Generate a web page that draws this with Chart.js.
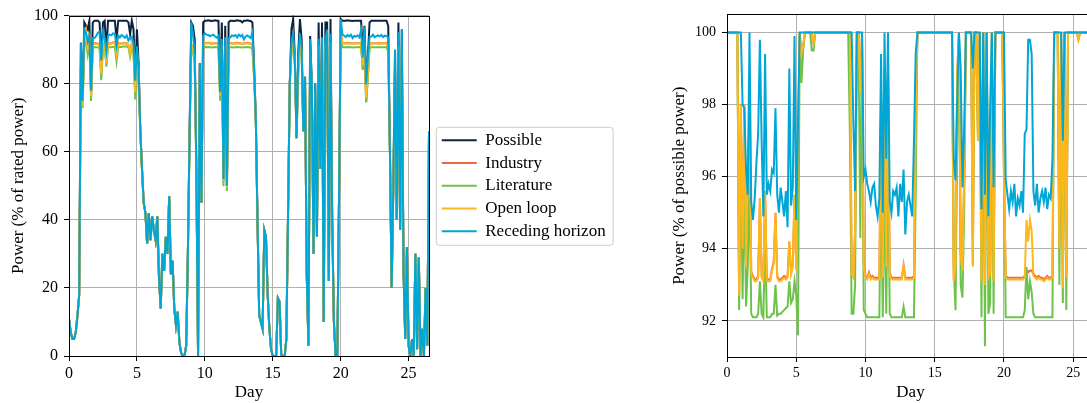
<!DOCTYPE html>
<html>
<head>
<meta charset="utf-8">
<title>Wind farm power</title>
<script src="https://cdn.jsdelivr.net/npm/chart.js@4.4.1/dist/chart.umd.min.js"></script>
<style>
  body { margin: 0; background: #fff; overflow: hidden; }
  #powerAbs { position: absolute; left: 0; top: 0; }
  #powerRel { position: absolute; left: 660px; top: 0; }
</style>
</head>
<body>
<canvas id="powerAbs" width="625" height="403"></canvas>
<canvas id="powerRel" width="440" height="403"></canvas>
<script>
// three-hourly samples, one row per day
const step = 0.125;

// power in % of rated power
const possible = [
  11, 7, 5, 5, 7, 12, 18, 92,
  75, 98, 97, 96, 98.5, 78, 98, 98.5,
  98.5, 98.5, 98, 87, 98, 98.5, 90, 98.5,
  98.5, 98.5, 98.5, 98.5, 93, 98.5, 98.5, 98.5,
  98.5, 98.5, 98.5, 98, 94.5, 98.5, 96, 81,
  96, 86, 66, 55, 45, 42, 33, 42,
  34, 41, 37, 34, 41, 23, 14, 30,
  25, 35, 30, 47, 24, 28, 14, 9,
  13, 4, 1, 0, 0, 3, 30, 65,
  98, 97, 93, 55, 0, 86, 45, 98,
  98.5, 98.5, 98.6, 98.5, 98.4, 98.5, 98.6, 98.5,
  98.5, 78, 98, 52, 97, 50, 98, 98.5,
  98.5, 98.4, 98.5, 98.6, 98.5, 98.5, 98, 98.5,
  98.5, 98.6, 98.5, 98.4, 98, 85, 70, 40,
  12, 10, 8, 37, 35, 18, 8, 2,
  0, 0, 0, 17, 16, 0, 0, 0,
  5, 42, 80, 96, 99, 88, 64, 89,
  99, 93, 66, 82, 24, 3, 94, 80,
  30, 80, 35, 98, 55, 98, 10, 98,
  98, 22, 99, 40, 10, 0, 0, 46,
  99, 98.5, 98.5, 98.5, 98.6, 98.5, 98.5, 98.4,
  98.5, 98.5, 98.5, 98.5, 98.5, 90, 97, 80,
  88, 98, 98.5, 98.5, 98.5, 98.5, 98.5, 98.5,
  98.5, 98.5, 98.5, 98.5, 97, 60, 20, 50,
  90, 40, 98, 37, 96, 25, 5, 32,
  3, 0, 5, 0, 30, 2, 29, 0,
  8, 0, 20, 3, 66
];

const industryAbs = [
  11, 7, 5, 5, 7, 12, 18, 85.3,
  73.5, 92.1, 95.1, 89.8, 94.6, 76.3, 91.5, 91.9,
  91.8, 91.8, 91.4, 83.0, 91.4, 91.8, 86.0, 91.8,
  91.8, 91.8, 92.1, 92.3, 88.4, 91.9, 91.8, 91.8,
  91.9, 91.9, 91.9, 91.4, 89.0, 92.0, 89.9, 77.4,
  89.8, 83.4, 66, 54.7, 44.8, 42, 33, 42,
  34, 41, 36.9, 34, 41, 23, 14, 30,
  25, 35, 30, 47, 24, 28, 14, 9,
  13, 4, 1, 0, 0, 3, 30, 65,
  91.5, 90.5, 87.9, 55, 0, 84.5, 45, 91.7,
  91.9, 91.9, 92.1, 91.9, 91.8, 91.9, 91.9, 91.9,
  91.9, 76.5, 91.4, 51.5, 90.8, 49.5, 91.5, 91.9,
  91.9, 91.8, 91.9, 92.0, 91.9, 91.9, 91.7, 91.9,
  91.9, 92.0, 91.9, 91.8, 91.4, 83.0, 70, 40,
  12, 10, 8, 37, 35, 18, 8, 2,
  0, 0, 0, 17, 16, 0, 0, 0,
  5, 42, 80, 89.5, 92.7, 87.0, 64, 83.6,
  92.6, 89.3, 66, 82, 24, 3, 88.0, 80,
  30, 77.6, 35, 91.3, 55, 91.2, 10, 91.4,
  91.5, 22, 92.3, 40, 10, 0, 0, 46,
  95.0, 91.9, 91.9, 91.9, 92.0, 91.9, 91.9, 91.8,
  91.9, 91.9, 91.9, 91.9, 91.9, 84.1, 90.5, 74.7,
  82.2, 91.5, 91.9, 91.9, 91.9, 91.9, 91.9, 91.8,
  91.9, 91.9, 91.9, 91.9, 90.5, 60, 20, 50,
  84.6, 40, 91.1, 37, 89.6, 25, 5, 32,
  3, 0, 5, 0, 30, 2, 29, 0,
  8, 0, 20, 3, 66
];

const literatureAbs = [
  11, 7, 5, 5, 7, 12, 18, 84.9,
  72.8, 90.7, 93.1, 88.7, 92.1, 74.9, 90.4, 90.7,
  90.7, 90.7, 90.4, 81.0, 90.4, 90.7, 85.0, 90.7,
  90.7, 90.7, 90.8, 90.8, 86.5, 90.8, 90.8, 90.8,
  90.9, 90.9, 91.0, 90.6, 88.0, 91.1, 88.9, 75.4,
  89.0, 78.8, 66, 54.2, 44.8, 42, 33, 42,
  34, 40.8, 36.8, 34, 41, 23, 14, 30,
  25, 35, 30, 47, 24, 28, 14, 9,
  13, 4, 1, 0, 0, 3, 30, 63.1,
  90.4, 89.4, 86.5, 55, 0, 81.1, 45, 90.5,
  90.8, 90.7, 90.8, 90.7, 90.6, 90.7, 90.8, 90.7,
  90.7, 75.0, 90.3, 49.9, 89.4, 48.5, 90.4, 90.7,
  90.7, 90.6, 90.7, 90.8, 90.7, 90.7, 90.6, 90.7,
  90.7, 90.8, 90.7, 90.6, 90.3, 81.2, 70, 40,
  12, 10, 8, 37, 35, 18, 8, 2,
  0, 0, 0, 17, 16, 0, 0, 0,
  5, 42, 80, 89.8, 91.4, 85.4, 64, 82.8,
  91.7, 88.4, 66, 82, 24, 3, 88.6, 80,
  30, 77.6, 35, 90.3, 55, 89.5, 10, 90.4,
  90.7, 22, 91.3, 40, 10, 0, 0, 46,
  95.5, 90.7, 90.7, 90.7, 90.8, 90.7, 90.7, 90.6,
  90.7, 90.7, 90.7, 90.7, 90.9, 84.2, 89.8, 74.5,
  81.7, 90.4, 90.7, 90.7, 90.7, 90.7, 90.7, 90.7,
  90.7, 90.7, 90.7, 90.7, 89.3, 60, 20, 50,
  83.7, 40, 90.7, 37, 88.6, 25, 5, 32,
  3, 0, 5, 0, 30, 2, 29, 0,
  8, 0, 20, 3, 66
];

const openLoopAbs = [
  11, 7, 5, 5, 7, 12, 18, 85.3,
  73.5, 92.1, 95.1, 89.8, 94.6, 76.3, 91.4, 91.8,
  91.7, 91.7, 91.3, 83.0, 91.3, 91.7, 86.0, 91.7,
  91.7, 91.7, 92.0, 92.2, 88.4, 91.8, 91.7, 91.7,
  91.8, 91.8, 91.8, 91.3, 89.0, 91.9, 89.8, 77.4,
  89.7, 83.4, 66, 54.7, 44.8, 42, 33, 42,
  34, 41, 36.9, 34, 41, 23, 14, 30,
  25, 35, 30, 47, 24, 28, 14, 9,
  13, 4, 1, 0, 0, 3, 30, 65,
  91.4, 90.4, 87.9, 55, 0, 84.5, 45, 91.6,
  91.8, 91.8, 92.0, 91.8, 91.7, 91.8, 91.8, 91.8,
  91.8, 76.5, 91.3, 51.5, 90.7, 49.5, 91.4, 91.8,
  91.8, 91.7, 91.8, 91.9, 91.8, 91.8, 91.6, 91.8,
  91.8, 91.9, 91.8, 91.7, 91.3, 83.0, 70, 40,
  12, 10, 8, 37, 35, 18, 8, 2,
  0, 0, 0, 17, 16, 0, 0, 0,
  5, 42, 80, 89.4, 92.6, 87.0, 64, 83.5,
  92.5, 89.3, 66, 82, 24, 3, 87.9, 80,
  30, 77.6, 35, 91.2, 55, 91.1, 10, 91.3,
  91.4, 22, 92.2, 40, 10, 0, 0, 46,
  95.0, 91.8, 91.8, 91.8, 91.9, 91.8, 91.8, 91.7,
  91.8, 91.8, 91.8, 91.8, 91.8, 85.3, 91.4, 75.8,
  83.2, 91.4, 91.8, 91.8, 91.8, 91.8, 91.8, 91.7,
  91.8, 91.8, 91.8, 91.8, 90.4, 60, 20, 50,
  84.6, 40, 91.0, 37, 89.5, 25, 5, 32,
  3, 0, 5, 0, 30, 2, 29, 0,
  8, 0, 20, 3, 66
];

const recedingAbs = [
  11, 7, 5, 5, 7, 12, 18, 92,
  75, 96.0, 95.0, 92.4, 94.1, 78, 93.4, 93.4,
  94.0, 95.0, 95.3, 86.8, 95.1, 93.5, 89.5, 94.1,
  94.4, 94.2, 94.8, 94.7, 91.0, 94.1, 93.6, 94.3,
  93.9, 93.5, 94.2, 92.7, 93.6, 93.8, 91.9, 80.9,
  91.0, 83.8, 66, 55, 45, 42, 33, 42,
  34, 41, 37, 34, 41, 23, 14, 30,
  25, 35, 30, 47, 24, 28, 14, 9,
  13, 4, 1, 0, 0, 3, 30, 65,
  98, 94.6, 88.9, 55, 0, 86, 45, 94.1,
  94.8, 94.4, 94.3, 93.9, 94.2, 94.4, 93.9, 93.5,
  94.0, 77.5, 93.1, 52, 93.6, 50, 93.4, 93.6,
  94.2, 94.0, 94.3, 93.6, 94.4, 93.9, 94.3, 93.0,
  93.9, 94.2, 93.8, 93.4, 95.1, 84.5, 70, 40,
  12, 10, 8, 37, 35, 18, 8, 2,
  0, 0, 0, 17, 16, 0, 0, 0,
  5, 42, 80, 92.6, 94.9, 86.4, 64, 88.1,
  94.7, 90.5, 66, 82, 24, 3, 93.1, 80,
  30, 80, 35, 93.2, 55, 93.6, 10, 93.0,
  95.9, 22, 94.7, 40, 10, 0, 0, 46,
  99, 94.5, 94.1, 93.7, 94.3, 93.9, 94.4, 93.4,
  94.0, 93.8, 94.2, 93.6, 95.7, 87.6, 96.8, 79.8,
  87.5, 93.7, 93.8, 94.4, 93.6, 94.0, 94.2, 93.9,
  94.3, 93.7, 94.1, 94.0, 93.6, 60, 20, 50,
  90, 40, 95.1, 37, 96, 25, 5, 32,
  3, 0, 5, 0, 30, 2, 29, 0,
  8, 0, 20, 3, 66
];

// power in % of possible power
const industryPct = [
  100, 100, 100, 100, 100, 100, 100, 92.75,
  98.0, 94.0, 98.0, 93.55, 96.0, 97.8, 93.35, 93.25,
  93.15, 93.15, 93.25, 95.4, 93.25, 93.15, 95.6, 93.15,
  93.15, 93.15, 93.45, 93.65, 95.0, 93.25, 93.15, 93.15,
  93.2, 93.25, 93.2, 93.25, 94.2, 93.35, 93.55, 95.5,
  93.45, 97.0, 100, 99.4, 99.6, 100, 100, 100,
  100, 100, 99.7, 100, 100, 100, 100, 100,
  100, 100, 100, 100, 100, 100, 100, 100,
  100, 100, 100, 100, 100, 100, 100, 100,
  93.35, 93.25, 94.5, 100, 100, 98.3, 100, 93.55,
  93.25, 93.2, 93.35, 93.2, 93.25, 93.2, 93.2, 93.2,
  93.2, 98.1, 93.25, 99.0, 93.55, 99.0, 93.35, 93.2,
  93.2, 93.2, 93.2, 93.2, 93.2, 93.2, 93.55, 93.2,
  93.2, 93.2, 93.2, 93.2, 93.25, 97.6, 100, 100,
  100, 100, 100, 100, 100, 100, 100, 100,
  100, 100, 100, 100, 100, 100, 100, 100,
  100, 100, 100, 93.15, 93.55, 98.9, 100, 93.85,
  93.45, 96.0, 100, 100, 100, 100, 93.55, 100,
  100, 97.0, 100, 93.15, 100, 93.05, 100, 93.25,
  93.35, 100, 93.15, 100, 100, 100, 100, 100,
  96.0, 93.25, 93.2, 93.2, 93.2, 93.2, 93.2, 93.2,
  93.2, 93.2, 93.2, 93.2, 93.25, 93.4, 93.35, 93.4,
  93.4, 93.3, 93.25, 93.2, 93.25, 93.2, 93.2, 93.15,
  93.2, 93.25, 93.2, 93.2, 93.25, 100, 100, 100,
  94.0, 100, 92.95, 100, 93.25, 100, 100, 100,
  100, 100, 100, 99.8, 100, 100, 100, 100,
  100, 100, 100, 100, 100
];

const literaturePct = [
  100, 100, 100, 100, 100, 100, 100, 92.3,
  97.0, 92.6, 96.0, 92.4, 93.5, 96.0, 92.2, 92.1,
  92.1, 92.1, 92.2, 93.1, 92.2, 92.1, 94.4, 92.1,
  92.1, 92.1, 92.2, 92.2, 93.0, 92.15, 92.2, 92.2,
  92.25, 92.3, 92.35, 92.4, 93.1, 92.5, 92.6, 93.1,
  92.7, 91.6, 100, 98.6, 99.5, 100, 100, 100,
  100, 99.5, 99.5, 100, 100, 100, 100, 100,
  100, 100, 100, 100, 100, 100, 100, 100,
  100, 100, 100, 100, 100, 100, 100, 97.1,
  92.2, 92.2, 93.0, 100, 100, 94.3, 100, 92.3,
  92.2, 92.1, 92.1, 92.1, 92.1, 92.1, 92.1, 92.1,
  92.1, 96.2, 92.1, 96.0, 92.2, 97.0, 92.2, 92.1,
  92.1, 92.1, 92.1, 92.1, 92.1, 92.1, 92.4, 92.1,
  92.1, 92.1, 92.1, 92.1, 92.1, 95.5, 100, 100,
  100, 100, 100, 100, 100, 100, 100, 100,
  100, 100, 100, 100, 100, 100, 100, 100,
  100, 100, 100, 93.5, 92.3, 97.0, 100, 93.0,
  92.65, 95.0, 100, 100, 100, 100, 94.3, 100,
  100, 97.0, 100, 92.1, 100, 91.3, 100, 92.2,
  92.5, 100, 92.2, 100, 100, 100, 100, 100,
  96.5, 92.1, 92.1, 92.1, 92.1, 92.1, 92.1, 92.1,
  92.1, 92.1, 92.1, 92.1, 92.3, 93.5, 92.6, 93.1,
  92.8, 92.2, 92.1, 92.1, 92.1, 92.1, 92.1, 92.1,
  92.1, 92.1, 92.1, 92.1, 92.1, 100, 100, 100,
  93.0, 100, 92.5, 100, 92.3, 100, 100, 100,
  100, 100, 100, 100, 100, 100, 100, 100,
  100, 100, 100, 100, 100
];

const openLoopPct = [
  100, 100, 100, 100, 100, 100, 100, 92.7,
  98.0, 94.0, 98.0, 93.5, 96.0, 97.8, 93.3, 93.2,
  93.1, 93.1, 93.2, 95.4, 93.2, 93.1, 95.6, 93.1,
  93.1, 93.1, 93.4, 93.6, 95.0, 93.2, 93.1, 93.1,
  93.15, 93.2, 93.15, 93.2, 94.2, 93.3, 93.5, 95.5,
  93.4, 97.0, 100, 99.4, 99.6, 100, 100, 100,
  100, 100, 99.7, 100, 100, 100, 100, 100,
  100, 100, 100, 100, 100, 100, 100, 100,
  100, 100, 100, 100, 100, 100, 100, 100,
  93.3, 93.2, 94.5, 100, 100, 98.3, 100, 93.5,
  93.2, 93.15, 93.3, 93.15, 93.2, 93.15, 93.15, 93.15,
  93.15, 98.1, 93.2, 99.0, 93.5, 99.0, 93.3, 93.15,
  93.15, 93.15, 93.15, 93.15, 93.15, 93.15, 93.5, 93.15,
  93.15, 93.15, 93.15, 93.15, 93.2, 97.6, 100, 100,
  100, 100, 100, 100, 100, 100, 100, 100,
  100, 100, 100, 100, 100, 100, 100, 100,
  100, 100, 100, 93.1, 93.5, 98.9, 100, 93.8,
  93.4, 96.0, 100, 100, 100, 100, 93.5, 100,
  100, 97.0, 100, 93.1, 100, 93.0, 100, 93.2,
  93.3, 100, 93.1, 100, 100, 100, 100, 100,
  96.0, 93.2, 93.15, 93.15, 93.15, 93.15, 93.15, 93.15,
  93.15, 93.15, 93.15, 93.15, 93.2, 94.8, 94.2, 94.8,
  94.5, 93.25, 93.2, 93.15, 93.2, 93.15, 93.15, 93.1,
  93.15, 93.2, 93.15, 93.15, 93.2, 100, 100, 100,
  94.0, 100, 92.9, 100, 93.2, 100, 100, 100,
  100, 100, 100, 99.8, 100, 100, 100, 100,
  100, 100, 100, 100, 100
];

const recedingPct = [
  100, 100, 100, 100, 100, 100, 100, 100,
  100, 98.0, 97.9, 96.2, 95.5, 100, 95.3, 94.8,
  95.4, 96.4, 97.2, 99.8, 97.0, 94.9, 99.4, 95.5,
  95.8, 95.6, 96.2, 96.1, 97.9, 95.5, 95.0, 95.7,
  95.3, 94.9, 95.6, 94.6, 99.0, 95.2, 95.7, 99.9,
  94.8, 97.4, 100, 100, 100, 100, 100, 100,
  100, 100, 100, 100, 100, 100, 100, 100,
  100, 100, 100, 100, 100, 100, 100, 100,
  100, 100, 100, 100, 100, 100, 100, 100,
  100, 97.5, 95.6, 100, 100, 100, 100, 96.0,
  96.2, 95.8, 95.6, 95.3, 95.7, 95.8, 95.2, 94.9,
  95.4, 99.4, 95.0, 100, 96.5, 100, 95.3, 95.0,
  95.6, 95.5, 95.7, 94.9, 95.8, 95.3, 96.2, 94.4,
  95.3, 95.5, 95.2, 94.9, 97.0, 99.4, 100, 100,
  100, 100, 100, 100, 100, 100, 100, 100,
  100, 100, 100, 100, 100, 100, 100, 100,
  100, 100, 100, 96.5, 95.9, 98.2, 100, 99.0,
  95.7, 97.3, 100, 100, 100, 100, 99.0, 100,
  100, 100, 100, 95.1, 100, 95.5, 100, 94.9,
  97.9, 100, 95.7, 100, 100, 100, 100, 100,
  100, 95.9, 95.5, 95.1, 95.6, 95.3, 95.8, 94.9,
  95.4, 95.2, 95.6, 95.0, 97.2, 97.3, 99.8, 99.8,
  99.4, 95.6, 95.2, 95.8, 95.0, 95.4, 95.6, 95.3,
  95.7, 95.1, 95.5, 95.4, 96.5, 100, 100, 100,
  100, 100, 97.0, 100, 100, 100, 100, 100,
  100, 100, 100, 100, 100, 100, 100, 100,
  100, 100, 100, 100, 100
];

const days = possible.map((_, i) => i * step);

const colors = {
  possible: '#0C2340',
  industry: '#EC6842',
  literature: '#6CC24A',
  openLoop: '#FFB81C',
  receding: '#00A6D6'
};

Chart.defaults.font.family = "'Liberation Serif', 'DejaVu Serif', serif";
Chart.defaults.color = '#000';

function series(label, data, color, order) {
  return {
    label: label,
    data: data,
    borderColor: color,
    backgroundColor: color,
    borderWidth: 2,
    pointRadius: 0,
    tension: 0,
    fill: false,
    order: order
  };
}

const gridOpts = { color: '#b0b0b0', lineWidth: 1, tickLength: 5, tickColor: '#000', tickWidth: 1 };

// black box round the plot area, over the lines
const frame = {
  id: 'frame',
  afterDatasetsDraw(chart) {
    const { ctx, chartArea: a } = chart;
    ctx.save();
    ctx.strokeStyle = '#000';
    ctx.lineWidth = 1;
    const l = Math.round(a.left) + 0.5, t = Math.round(a.top) + 0.5;
    ctx.strokeRect(l, t, Math.round(a.right) - Math.round(a.left), Math.round(a.bottom) - Math.round(a.top));
    ctx.restore();
  }
};

// pushes the legend a little off the axes, lets it use the rest of the canvas,
// and gives it a rounded grey frame
const legendFrame = {
  id: 'legendFrame',
  afterLayout(chart) {
    const lg = chart.legend;
    if (!lg || !lg.options.display) return;
    lg.left += 7;
    lg.right = chart.width;
    lg.width = lg.right - lg.left;
  },
  beforeDraw(chart) {
    const lg = chart.legend;
    if (!lg || !lg.options.display || !lg.legendHitBoxes.length) return;
    const hb = lg.legendHitBoxes;
    const x0 = hb[0].left - 6;
    const y0 = hb[0].top - 5;
    const x1 = Math.max(...hb.map(b => b.left + b.width)) + 7;
    const last = hb[hb.length - 1];
    const y1 = last.top + last.height + 5;
    const ctx = chart.ctx;
    ctx.save();
    ctx.beginPath();
    if (ctx.roundRect) ctx.roundRect(x0 + 0.5, y0 + 0.5, x1 - x0, y1 - y0, 3);
    else ctx.rect(x0 + 0.5, y0 + 0.5, x1 - x0, y1 - y0);
    ctx.fillStyle = 'rgba(255,255,255,0.8)';
    ctx.fill();
    ctx.strokeStyle = '#cccccc';
    ctx.lineWidth = 1;
    ctx.stroke();
    ctx.restore();
  }
};

new Chart(document.getElementById('powerAbs'), {
  type: 'line',
  data: {
    labels: days,
    datasets: [
      series('Possible', possible, colors.possible, 5),
      series('Industry', industryAbs, colors.industry, 4),
      series('Literature', literatureAbs, colors.literature, 3),
      series('Open loop', openLoopAbs, colors.openLoop, 2),
      series('Receding horizon', recedingAbs, colors.receding, 1)
    ]
  },
  options: {
    responsive: false,
    animation: false,
    layout: { padding: { top: 15, right: 46, bottom: 0, left: 0 } },
    plugins: {
      legend: {
        position: 'right',
        fullSize: false,
        maxWidth: 150,
        labels: {
          usePointStyle: true,
          pointStyle: 'line',
          pointStyleWidth: 35,
          padding: 5.75,
          color: '#000',
          font: { size: 17 },
          sort: (a, b) => a.datasetIndex - b.datasetIndex
        }
      },
      tooltip: { enabled: false }
    },
    scales: {
      x: {
        type: 'linear',
        min: 0,
        max: 26.5,
        ticks: { stepSize: 5, includeBounds: false, maxRotation: 0, padding: 3, font: { size: 16 } },
        grid: gridOpts,
        border: { display: false },
        title: { display: true, text: 'Day', font: { size: 17 }, padding: { top: 0, bottom: 0 } },
        afterFit: s => { s.height = 47; }
      },
      y: {
        min: 0,
        max: 100,
        ticks: { stepSize: 20, padding: 6, font: { size: 16 } },
        grid: gridOpts,
        border: { display: false },
        title: { display: true, text: 'Power (% of rated power)', font: { size: 17 }, padding: { top: 8, bottom: 0 } },
        afterFit: s => { s.width = 69; }
      }
    }
  },
  plugins: [frame, legendFrame]
});

new Chart(document.getElementById('powerRel'), {
  type: 'line',
  data: {
    labels: days,
    datasets: [
      series('Industry', industryPct, colors.industry, 4),
      series('Literature', literaturePct, colors.literature, 3),
      series('Open loop', openLoopPct, colors.openLoop, 2),
      series('Receding horizon', recedingPct, colors.receding, 1)
    ]
  },
  options: {
    responsive: false,
    animation: false,
    layout: { padding: { top: 10, right: 6, bottom: 0, left: 0 } },
    plugins: {
      legend: { display: false },
      tooltip: { enabled: false }
    },
    scales: {
      x: {
        type: 'linear',
        min: 0,
        max: 26.5,
        ticks: { stepSize: 5, includeBounds: false, maxRotation: 0, padding: 3, font: { size: 14 } },
        grid: gridOpts,
        border: { display: false },
        title: { display: true, text: 'Day', font: { size: 17 }, padding: { top: 0, bottom: 0 } },
        afterFit: s => { s.height = 46; }
      },
      y: {
        min: 91,
        max: 100.5,
        ticks: { stepSize: 2, includeBounds: false, padding: 6, font: { size: 14 } },
        grid: gridOpts,
        border: { display: false },
        title: { display: true, text: 'Power (% of possible power)', font: { size: 17 }, padding: { top: 9, bottom: 0 } },
        afterFit: s => { s.width = 67; }
      }
    }
  },
  plugins: [frame]
});
</script>
</body>
</html>
